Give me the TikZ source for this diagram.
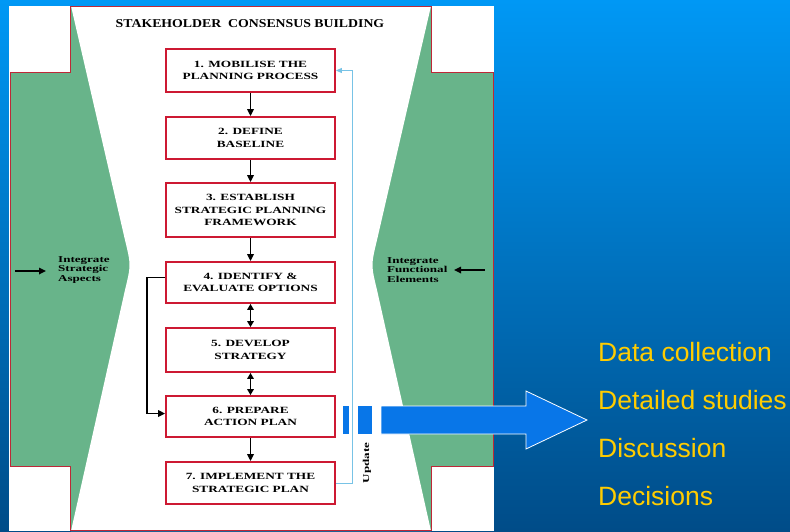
\documentclass[tikz,border=0pt]{standalone}
\usepackage{fontspec}
\setmainfont{Liberation Serif}
\newfontfamily\stepfont[FakeStretch=1.4]{Liberation Serif}
\newfontfamily\headfont[FakeStretch=1.15]{Liberation Serif}
\newfontfamily\sidefont[FakeStretch=1.45]{Liberation Serif}
\newfontfamily\listfont{Liberation Sans}
\usetikzlibrary{arrows.meta}

\definecolor{bgtop}{RGB}{0,152,245}
\definecolor{bgbot}{RGB}{0,76,136}
\definecolor{panelgreen}{RGB}{104,180,138}
\definecolor{framered}{RGB}{190,40,55}
\definecolor{boxred}{RGB}{205,25,50}
\definecolor{updblue}{RGB}{120,195,230}
\definecolor{arrowblue}{RGB}{8,118,232}
\definecolor{listyellow}{RGB}{255,204,0}

\begin{document}
\begin{tikzpicture}[x=1pt,y=-1pt,
  stepbox/.style={draw=boxred,line width=1.8pt,fill=white,minimum width=169pt,
    align=center,inner sep=0pt,
    font=\stepfont\bfseries\fontsize{9.5}{12.7}\selectfont},
  flow/.style={-{Triangle[length=7pt,width=6.5pt]},line width=1.6pt,black},
  twoway/.style={{Triangle[length=6pt,width=6.5pt]}-{Triangle[length=6pt,width=6.5pt]},line width=1.6pt,black},
  updline/.style={-{Triangle[length=6pt,width=5pt]},line width=0.9pt,updblue},
  sidetext/.style={align=left,inner sep=0pt,
    font=\sidefont\bfseries\fontsize{9}{9.8}\selectfont},
  listtext/.style={inner sep=0pt,text=listyellow,
    font=\listfont\fontsize{26.5}{30}\selectfont}
]
\useasboundingbox (0,0) rectangle (790,531);

% background
\shade[top color=bgtop,bottom color=bgbot] (0,0) rectangle (790,531);

% white panel
\fill[white] (9,6) rectangle (494,531);

% cross-shaped frame filled green
\fill[panelgreen] (70,6) -- (431,6) -- (431,72) -- (493,72) -- (493,466)
  -- (431,466) -- (431,530) -- (70,530) -- (70,466) -- (10,466) -- (10,72)
  -- (70,72) -- cycle;

% white hourglass funnel
\fill[white] (71,6) -- (125,240) .. controls (131,265) .. (125,290) -- (71,531)
  -- (431,531) -- (377,290) .. controls (371,265) .. (377,240) -- (431,6) -- cycle;

% frame outline
\draw[framered,line width=1pt] (70,6) -- (431,6) -- (431,72) -- (493,72) -- (493,466)
  -- (431,466) -- (431,530) -- (70,530) -- (70,466) -- (10,466) -- (10,72)
  -- (70,72) -- cycle;

% title
\node[inner sep=0pt,font=\headfont\bfseries\fontsize{12}{13}\selectfont] (title) at (250,24)
  {STAKEHOLDER\ \ CONSENSUS BUILDING};

% process steps
\node[stepbox,minimum height=43pt] (s1) at (250.5,70.5) {1. MOBILISE THE\\PLANNING PROCESS};
\node[stepbox,minimum height=42pt] (s2) at (250.5,138) {2. DEFINE\\BASELINE};
\node[stepbox,minimum height=54pt] (s3) at (250.5,210) {3. ESTABLISH\\STRATEGIC PLANNING\\FRAMEWORK};
\node[stepbox,minimum height=41pt] (s4) at (250.5,282.5) {4. IDENTIFY \&\\EVALUATE OPTIONS};
\node[stepbox,minimum height=44pt] (s5) at (250.5,350) {5. DEVELOP\\STRATEGY};
\node[stepbox,minimum height=41pt] (s6) at (250.5,416.5) {6. PREPARE\\ACTION PLAN};
\node[stepbox,minimum height=42pt] (s7) at (250.5,483) {7. IMPLEMENT THE\\STRATEGIC PLAN};

\draw[flow] (s1) -- (s2);
\draw[flow] (s2) -- (s3);
\draw[flow] (s3) -- (s4);
\draw[twoway] (s4) -- (s5);
\draw[twoway] (s5) -- (s6);
\draw[flow] (s6) -- (s7);

% loop back from options to action plan
\draw[flow] ([yshift=5pt]s4.west) -- ++(-18,0) |- ([yshift=3pt]s6.west);

% update loop
\draw[updline] (s7.east) -- ++(17,0) |- (s1.east);
\node[rotate=90,inner sep=0pt,font=\sidefont\bfseries\fontsize{9}{10}\selectfont] (upd) at (367,463) {Update};

% side inputs
\node[sidetext,anchor=west] (left) at (58,270) {Integrate\\Strategic\\Aspects};
\node[sidetext,anchor=west] (right) at (387,270) {Integrate\\Functional\\Elements};
\coordinate (la) at (15,271);
\coordinate (lb) at (46,271);
\coordinate (ra) at (485,270);
\coordinate (rb) at (454,270);
\draw[flow] (la) -- (lb);
\draw[flow] (ra) -- (rb);

% big blue arrow
\fill[arrowblue] (343,406) rectangle (349,434);
\fill[arrowblue] (358,406) rectangle (372,434);
\filldraw[fill=arrowblue,draw=white,line width=0.8pt] (381,406) -- (526,406) -- (526,391)
  -- (587,420) -- (526,449) -- (526,434) -- (381,434) -- cycle;

% activity list
\node[listtext,anchor=base west] (d1) at (598,361) {Data collection};
\node[listtext,anchor=base west] (d2) at (598,409) {Detailed studies};
\node[listtext,anchor=base west] (d3) at (598,457) {Discussion};
\node[listtext,anchor=base west] (d4) at (598,505) {Decisions};
\end{tikzpicture}
\end{document}
